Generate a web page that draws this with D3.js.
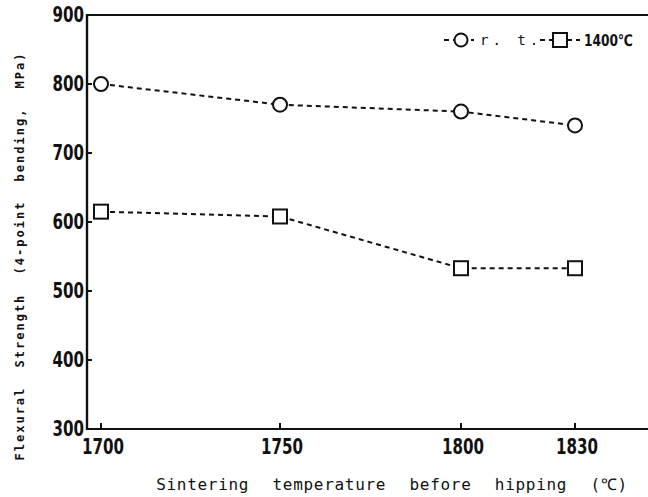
<!DOCTYPE html>
<html>
<head>
<meta charset="utf-8">
<script src="https://cdn.jsdelivr.net/npm/d3@7"></script>
<style>
  body { margin: 0; background: #fff; }
  svg { display: block; }
  .tick-label { font-family: "Liberation Sans Narrow", "DejaVu Sans Condensed", sans-serif; font-stretch: condensed; font-weight: bold; fill: #111; }
  .title { font-family: "DejaVu Sans Mono", monospace; fill: #111; }
</style>
</head>
<body>
<div id="chart"></div>
<script>
// data
const temperatures = [1700, 1750, 1800, 1830];
const roomTemp = [800, 770, 760, 740];
const highTemp = [615, 608, 533, 533];
const yTicks = [300, 400, 500, 600, 700, 800, 900];
const xTicks = [1700, 1750, 1800, 1830];

const width = 648, height = 497;
const svg = d3.select("#chart").append("svg")
   .attr("width", width)
   .attr("height", height);

// axis is drawn by hand so spacing is not quite linear
const x = d3.scaleLinear().domain([1700, 1750, 1800, 1830]).range([101, 280, 461, 575]);
const y = d3.scaleLinear().domain([300, 900]).range([429, 15]);
const left = 87, right = 648;

const ink = "#111";

// frame: left axis, top and bottom lines
svg.append("line").attr("x1", left).attr("x2", left).attr("y1", y(900) - 1).attr("y2", y(300) + 1)
   .attr("stroke", ink).attr("stroke-width", 2.4);
svg.append("line").attr("x1", left).attr("x2", right).attr("y1", y(900)).attr("y2", y(900))
   .attr("stroke", ink).attr("stroke-width", 2.2);
svg.append("line").attr("x1", left).attr("x2", right).attr("y1", y(300)).attr("y2", y(300))
   .attr("stroke", ink).attr("stroke-width", 2);

// y ticks (inward) and labels, squeezed horizontally like the typeset digits
const yg = svg.append("g");
yg.selectAll("line").data(yTicks.filter(d => d > 300 && d < 900)).join("line")
   .attr("x1", left).attr("x2", left + 5)
   .attr("y1", d => y(d)).attr("y2", d => y(d))
   .attr("stroke", ink).attr("stroke-width", 2);
yg.selectAll("text").data(yTicks).join("text")
   .attr("class", "tick-label")
   .attr("transform", d => "translate(" + (left - 3) + "," + (y(d) + 7) + ") scale(0.8,1)")
   .attr("text-anchor", "end")
   .attr("font-size", 21)
   .text(d => d);

// x ticks (inward) and labels
const xg = svg.append("g");
xg.selectAll("line").data(xTicks).join("line")
   .attr("x1", d => x(d)).attr("x2", d => x(d))
   .attr("y1", y(300)).attr("y2", y(300) - 6)
   .attr("stroke", ink).attr("stroke-width", 2);
xg.selectAll("text").data(xTicks).join("text")
   .attr("class", "tick-label")
   .attr("transform", d => "translate(" + (x(d) + 2) + "," + (y(300) + 25) + ") scale(0.8,1)")
   .attr("text-anchor", "middle")
   .attr("font-size", 21)
   .text(d => d);

// axis titles
svg.append("text").attr("class", "title")
   .attr("x", 392).attr("y", 490)
   .attr("text-anchor", "middle")
   .attr("font-size", 16)
   .attr("word-spacing", 13)
   .attr("letter-spacing", 0.7)
   .text("Sintering temperature before hipping (℃)");

svg.append("text").attr("class", "title")
   .attr("transform", "translate(24,256) rotate(-90)")
   .attr("text-anchor", "middle")
   .attr("font-size", 12)
   .attr("font-weight", "bold")
   .attr("word-spacing", 10)
   .attr("letter-spacing", 2)
   .text("Flexural Strength (4-point bending, MPa)");

// series lines
const line = d3.line().x((d, i) => x(temperatures[i])).y(d => y(d));
[roomTemp, highTemp].forEach(series => {
   svg.append("path")
      .attr("d", line(series))
      .attr("fill", "none")
      .attr("stroke", ink)
      .attr("stroke-width", 2)
      .attr("stroke-dasharray", "5,4");
});

// markers
svg.append("g").selectAll("circle").data(roomTemp).join("circle")
   .attr("cx", (d, i) => x(temperatures[i]))
   .attr("cy", d => y(d))
   .attr("r", 7)
   .attr("fill", "#fff")
   .attr("stroke", ink)
   .attr("stroke-width", 2);

const sq = 14;
svg.append("g").selectAll("rect").data(highTemp).join("rect")
   .attr("x", (d, i) => x(temperatures[i]) - sq / 2)
   .attr("y", d => y(d) - sq / 2)
   .attr("width", sq).attr("height", sq)
   .attr("fill", "#fff")
   .attr("stroke", ink)
   .attr("stroke-width", 2);

// legend
const lg = svg.append("g").attr("transform", "translate(0,40)");
lg.append("line").attr("x1", 444).attr("x2", 474).attr("y1", 0).attr("y2", 0)
   .attr("stroke", ink).attr("stroke-width", 2).attr("stroke-dasharray", "5,4");
lg.append("circle").attr("cx", 461).attr("cy", 0).attr("r", 6.5)
   .attr("fill", "#fff").attr("stroke", ink).attr("stroke-width", 2);
lg.append("text").attr("class", "title").attr("x", 480).attr("y", 5)
   .attr("font-size", 14).attr("letter-spacing", 4).text("r. t.");
lg.append("line").attr("x1", 540).attr("x2", 580).attr("y1", 0).attr("y2", 0)
   .attr("stroke", ink).attr("stroke-width", 2).attr("stroke-dasharray", "5,4");
lg.append("rect").attr("x", 553).attr("y", -7).attr("width", 14).attr("height", 14)
   .attr("fill", "#fff").attr("stroke", ink).attr("stroke-width", 2);
lg.append("text").attr("class", "tick-label")
   .attr("transform", "translate(584,6) scale(0.85,1)")
   .attr("font-size", 16).text("1400℃");
</script>
</body>
</html>
